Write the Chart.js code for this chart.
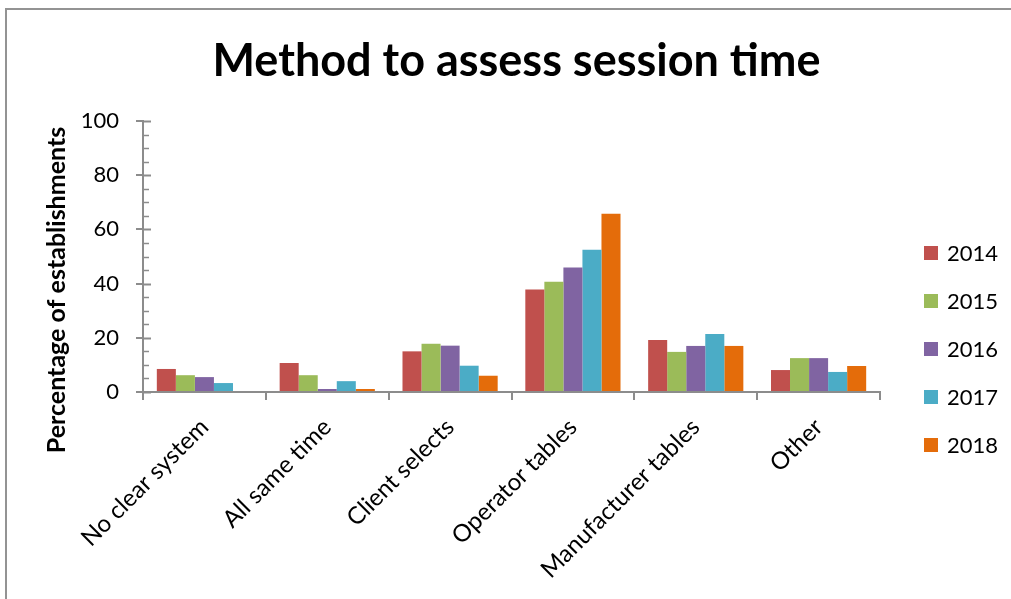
<!DOCTYPE html>
<html>
<head>
<meta charset="utf-8">
<script src="https://cdn.jsdelivr.net/npm/chart.js@4.4.0/dist/chart.umd.min.js"></script>
<style>
  html, body { margin: 0; padding: 0; background: #fff; }
  #wrap { position: relative; width: 1011px; height: 599px; overflow: hidden; }
  #marco { position: absolute; left: 5px; top: 8px; width: 1100px; height: 700px; border: 2px solid #939393; }
  canvas { position: absolute; left: 0; top: 0; }
</style>
</head>
<body>
<div id="wrap">
  <div id="marco"></div>
  <canvas id="grafico" width="1011" height="599"></canvas>
</div>
<script>
// Categorías y porcentajes por año
const categorias = ['No clear system', 'All same time', 'Client selects', 'Operator tables', 'Manufacturer tables', 'Other'];
const anios = ['2014', '2015', '2016', '2017', '2018'];
const v2014 = [8.5, 10.7, 15.0, 37.8, 19.2, 8.1];
const v2015 = [6.2, 6.2, 17.8, 40.7, 14.8, 12.5];
const v2016 = [5.5, 1.1, 17.1, 45.9, 17.0, 12.5];
const v2017 = [3.3, 4.0, 9.7, 52.5, 21.4, 7.4];
const v2018 = [0, 1.1, 6.0, 65.8, 17.0, 9.6];
const ticksY = [0, 20, 40, 60, 80, 100];

const colores = ['#C0504D', '#9BBB59', '#8064A2', '#4BACC6', '#E46C0A'];
const series = [v2014, v2015, v2016, v2017, v2018];
const gris = '#8c8c8c';
const fuente = 'Lato, "Liberation Sans", Arial, sans-serif';
const titulo = 'Method to assess session time';
const tituloY = 'Percentage of establishments';

// Marcas menores del eje Y (hacia dentro) cada 5 unidades
const marcasMenores = {
  id: 'marcasMenores',
  afterDraw(chart) {
    const ctx = chart.ctx;
    const ys = chart.scales.y;
    const x = chart.chartArea.left;
    ctx.save();
    ctx.strokeStyle = gris;
    for (let v = ys.min; v <= ys.max; v += 5) {
      const py = Math.round(ys.getPixelForValue(v)) + 0.5;
      const mayor = v % 20 === 0;
      ctx.lineWidth = mayor ? 2 : 1.5;
      ctx.beginPath();
      ctx.moveTo(x, py);
      ctx.lineTo(x + (mayor ? 8 : 6), py);
      ctx.stroke();
    }
    ctx.restore();
  }
};

// Título principal y título del eje Y
const titulos = {
  id: 'titulos',
  afterDraw(chart) {
    const ctx = chart.ctx;
    ctx.save();
    ctx.fillStyle = '#000';
    ctx.font = 'bold 45px ' + fuente;
    ctx.textAlign = 'center';
    ctx.textBaseline = 'alphabetic';
    ctx.fillText(titulo, 516.5, 76);
    ctx.restore();

    ctx.save();
    ctx.fillStyle = '#000';
    ctx.translate(57, 290);
    ctx.rotate(-Math.PI / 2);
    ctx.font = 'bold 25px ' + fuente;
    ctx.textAlign = 'center';
    ctx.textBaseline = 'middle';
    ctx.fillText(tituloY, 0, 0);
    ctx.restore();
  }
};

// Leyenda a la derecha, en columna
const leyendaLateral = {
  id: 'leyendaLateral',
  afterDraw(chart) {
    const ctx = chart.ctx;
    ctx.save();
    ctx.font = '22px ' + fuente;
    ctx.textBaseline = 'middle';
    chart.data.datasets.forEach((ds, i) => {
      const y = 253 + i * 48;
      ctx.fillStyle = ds.backgroundColor;
      ctx.fillRect(924, y - 7, 14, 14);
      ctx.fillStyle = '#000';
      ctx.fillText(ds.label, 947, y + 1);
    });
    ctx.restore();
  }
};

const ctx = document.getElementById('grafico').getContext('2d');
new Chart(ctx, {
  type: 'bar',
  data: {
    labels: categorias,
    datasets: anios.map((a, i) => ({
      label: a,
      data: series[i],
      backgroundColor: colores[i],
      borderWidth: 0,
      categoryPercentage: 0.775,
      barPercentage: 1.0
    }))
  },
  options: {
    responsive: false,
    animation: false,
    layout: { padding: { left: 21, right: 0, top: 121, bottom: 0 } },
    plugins: {
      legend: { display: false },
      tooltip: { enabled: false },
      title: { display: false }
    },
    scales: {
      x: {
        grid: { offset: true, drawOnChartArea: false, tickLength: 8, color: gris, lineWidth: 2 },
        border: { color: gris, width: 2 },
        ticks: { color: '#000', font: { family: fuente, size: 24 }, minRotation: 45, maxRotation: 45, padding: 13 },
        afterFit: s => { s.height = 207; }
      },
      y: {
        min: 0,
        max: 100,
        afterBuildTicks: s => { s.ticks = ticksY.map(v => ({ value: v })); },
        grid: { drawOnChartArea: false, tickLength: 7, color: gris, lineWidth: 2 },
        border: { color: gris, width: 2 },
        ticks: { color: '#000', font: { family: fuente, size: 22 }, padding: 17 },
        afterFit: s => { s.width = 122; }
      },
      // eje vacío que reserva el hueco de la leyenda
      hueco: {
        position: 'right',
        display: true,
        grid: { display: false },
        border: { display: false },
        ticks: { display: false },
        afterFit: s => { s.width = 131; }
      }
    }
  },
  plugins: [marcasMenores, titulos, leyendaLateral]
});
</script>
</body>
</html>
